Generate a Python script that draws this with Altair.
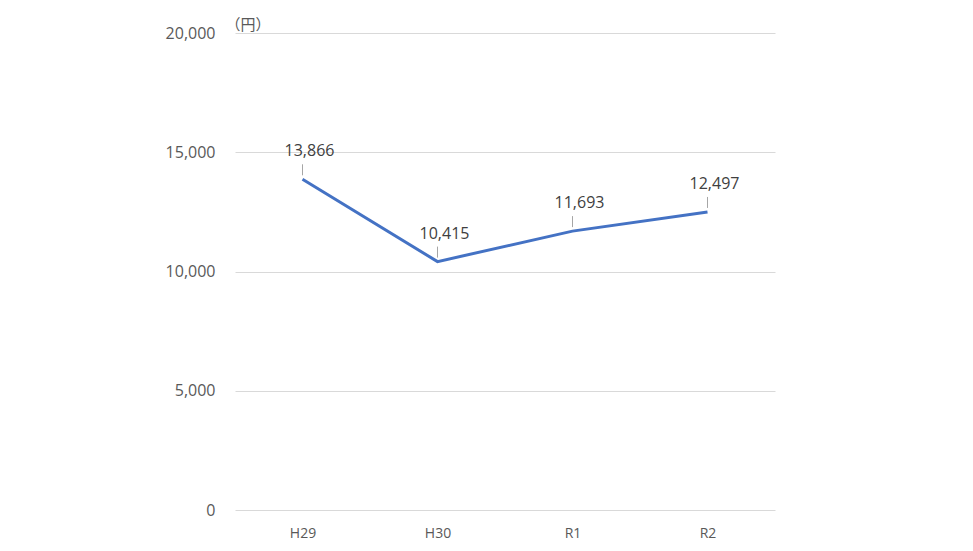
import altair as alt
import pandas as pd

years = ["H29", "H30", "R1", "R2"]
values = [13866, 10415, 11693, 12497]

df = pd.DataFrame({"year": years, "value": values})

x = alt.X("year:N", sort=years, title=None,
          axis=alt.Axis(labelAngle=0, labelPadding=16, ticks=False, domain=False,
                        labelFont="Open Sans", labelFontSize=14, labelColor="#595959"),
          scale=alt.Scale(type="point", padding=0.5))
y = alt.Y("value:Q", scale=alt.Scale(domain=[0, 20000]),
          axis=alt.Axis(values=[0, 5000, 10000, 15000, 20000], format=",.0f",
                        ticks=False, domain=False, labelPadding=20,
                        labelFont="Open Sans", labelFontSize=16, labelColor="#595959",
                        gridColor="#d9d9d9", gridWidth=1,
                        title="（円）", titleAngle=0, titleAlign="left", titleBaseline="middle",
                        titleX=-10, titleY=-9, titleFont="Noto Sans CJK JP",
                        titleFontSize=15, titleFontWeight="normal", titleColor="#595959"))

base = alt.Chart(df).encode(x=x, y=y)

line = base.mark_line(color="#4472C4", strokeWidth=3)
leader = base.mark_rule(color="#a6a6a6", strokeWidth=1, yOffset=-4, y2Offset=-15, x2Offset=3).encode(
    y2="value:Q")
labels = base.mark_text(dy=-28, dx=7, font="Open Sans", fontSize=16, color="#404040").encode(
    text=alt.Text("value:Q", format=",.0f"))

chart = alt.layer(line, leader, labels).properties(
    width=540, height=477,
    autosize=alt.AutoSizeParams(type="none"),
    padding={"left": 227, "top": 25, "right": 190, "bottom": 33},
).configure_view(stroke=None).configure_axis(grid=True)

chart = chart.configure_axisX(grid=False)

chart.save("out.html", embed_options={"renderer": "svg", "actions": False})
